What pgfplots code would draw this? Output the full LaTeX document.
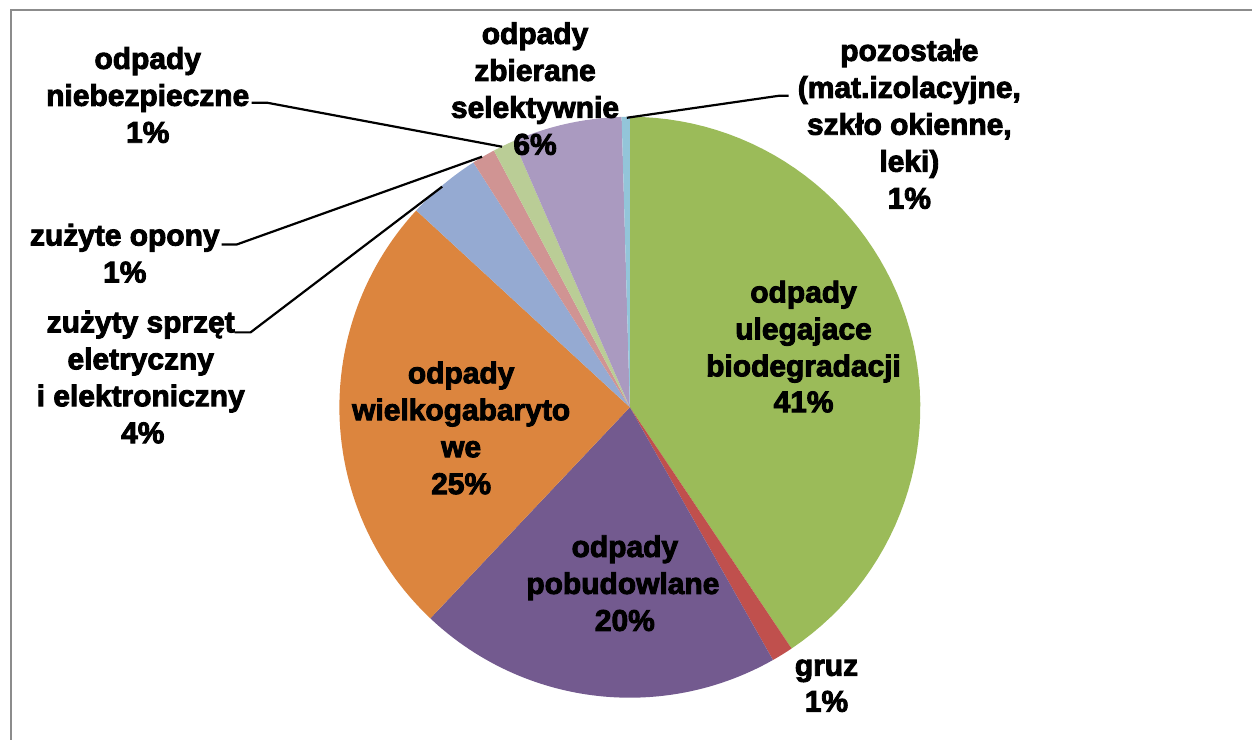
\documentclass[border=0pt]{standalone}
\usepackage{pgfplots}
\pgfplotsset{compat=1.18}
\usepackage{fontspec}
\setmainfont{Liberation Sans}
\newfontfamily\lblfont{Liberation Sans Bold}[FakeBold=3]
\definecolor{cGreen}{HTML}{9BBB59}
\definecolor{cRed}{HTML}{C0504D}
\definecolor{cPurple}{HTML}{735A8F}
\definecolor{cOrange}{HTML}{DC853E}
\definecolor{cBlue}{HTML}{95AAD2}
\definecolor{cPink}{HTML}{D09493}
\definecolor{cLGreen}{HTML}{BACD96}
\definecolor{cLav}{HTML}{AA9AC0}
\definecolor{cLBlue}{HTML}{93C5D9}
\definecolor{frame}{RGB}{140,140,140}
% shares (percent), clockwise from 12 o'clock
\def\vA{40.6}  % odpady ulegajace biodegradacji
\def\vB{1.2}   % gruz
\def\vC{20.25} % odpady pobudowlane
\def\vD{24.8}  % odpady wielkogabarytowe
\def\vE{4.1}   % zuzyty sprzet
\def\vF{1.3}   % zuzyte opony
\def\vG{1.2}   % odpady niebezpieczne
\def\vH{6.1}   % odpady zbierane selektywnie
\def\vI{0.45}  % pozostale
\pgfmathsetmacro\cA{3.6*\vA}
\pgfmathsetmacro\cB{\cA+3.6*\vB}
\pgfmathsetmacro\cC{\cB+3.6*\vC}
\pgfmathsetmacro\cD{\cC+3.6*\vD}
\pgfmathsetmacro\cE{\cD+3.6*\vE}
\pgfmathsetmacro\cF{\cE+3.6*\vF}
\pgfmathsetmacro\cG{\cF+3.6*\vG}
\pgfmathsetmacro\cH{\cG+3.6*\vH}
\pgfmathsetmacro\cI{\cH+3.6*\vI}
\newcommand\slice[3]{\addplot[fill=#3, draw=none, domain=#1:#2, samples=60, variable=\t]
  ({631+291*sin(\t)},{408-291*cos(\t)}) -- (axis cs:631,408) -- cycle;}
\newcommand\lbl[3]{\node[anchor=base, inner sep=0pt, font=\lblfont\fontsize{15pt}{18pt}\selectfont] at (axis cs:#1,#2) {#3};}
\begin{document}
\begin{tikzpicture}
\begin{axis}[
  width=626.5pt, height=370pt, scale only axis,
  xmin=0, xmax=1253, ymin=0, ymax=740, y dir=reverse,
  hide axis, clip=false]
\path (rel axis cs:0,0) rectangle (rel axis cs:1,1);
\slice{0}{\cA}{cGreen}
\slice{\cA}{\cB}{cRed}
\slice{\cB}{\cC}{cPurple}
\slice{\cC}{\cD}{cOrange}
\slice{\cD}{\cE}{cBlue}
\slice{\cE}{\cF}{cPink}
\slice{\cF}{\cG}{cLGreen}
\slice{\cG}{\cH}{cLav}
\slice{\cH}{\cI}{cLBlue}
% frame
\addplot[frame, line width=1.3pt] coordinates {(11,741) (11,10) (1254,10)};
% leader lines
\addplot[black, line width=1.1pt] coordinates {(252,103) (268,103) (503,147)};
\addplot[black, line width=1.1pt] coordinates {(222,245) (237,245) (483,157)};
\addplot[black, line width=1.1pt] coordinates {(235,333) (251,333) (443,187)};
\addplot[black, line width=1.1pt] coordinates {(628,118) (780,96) (790,96)};
% labels
\lbl{148}{69}{odpady}
\lbl{148}{106}{niebezpieczne}
\lbl{148}{143}{1\%}
\lbl{536}{44}{odpady}
\lbl{536}{81}{zbierane}
\lbl{536}{118}{selektywnie}
\lbl{536}{155}{6\%}
\lbl{911}{61}{pozostałe}
\lbl{911}{98}{(mat.izolacyjne,}
\lbl{911}{135}{szkło okienne,}
\lbl{911}{172}{leki)}
\lbl{911}{209}{1\%}
\lbl{125}{246}{zużyte opony}
\lbl{125}{283}{1\%}
\lbl{141}{333}{zużyty sprzęt}
\lbl{141}{370}{eletryczny}
\lbl{141}{407}{i elektroniczny}
\lbl{143}{444}{4\%}
\lbl{462}{384}{odpady}
\lbl{462}{421}{wielkogabaryto}
\lbl{462}{458}{we}
\lbl{462}{495}{25\%}
\lbl{805}{303}{odpady}
\lbl{805}{340}{ulegajace}
\lbl{805}{377}{biodegradacji}
\lbl{805}{413}{41\%}
\lbl{626}{558}{odpady}
\lbl{624}{595}{pobudowlane}
\lbl{626}{632}{20\%}
\lbl{828}{677}{gruz}
\lbl{828}{713}{1\%}
\end{axis}
\end{tikzpicture}
\end{document}
